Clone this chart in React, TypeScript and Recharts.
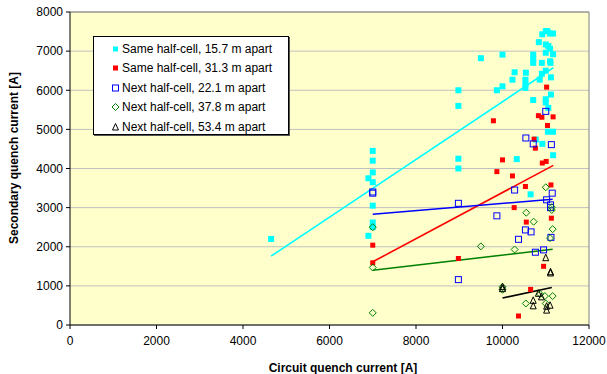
import React from 'react';
import {
  ScatterChart,
  Scatter,
  XAxis,
  YAxis,
  CartesianGrid,
  ReferenceLine,
} from 'recharts';

// [circuit quench current, secondary quench current]
const same157: number[][] = [
  [4650, 2200],
  [6900, 2280], [7000, 2500], [7000, 2620], [7000, 3050], [7000, 3650], [6900, 3750], [7000, 3900], [7000, 4200], [7000, 4450],
  [8980, 4000], [8980, 4250], [8980, 5600], [8980, 6000],
  [9500, 6820], [9870, 6000], [10000, 6100], [10000, 6910],
  [10230, 6270], [10280, 6460], [10330, 4240],
  [10530, 6060], [10530, 6150], [10530, 6270], [10540, 6450], [10650, 3340],
  [10710, 6910], [10710, 6790], [10710, 6700], [10710, 5750],
  [10770, 4740], [10840, 7230], [10860, 6270],
  [10910, 6700], [10910, 6420], [10920, 7430], [10920, 4630],
  [11000, 7510], [11000, 7170], [11000, 6960], [11000, 6500], [11000, 5770], [11000, 5690],
  [11040, 7510], [11060, 7130], [11060, 5550], [11050, 4940],
  [11100, 7450], [11100, 7060], [11100, 6740], [11110, 6700],
  [11120, 6330], [11120, 5890],
  [11170, 7450], [11170, 6920], [11170, 4940], [11170, 4340],
];

const same313: number[][] = [
  [7000, 2040], [7000, 1590], [8980, 1700], [9790, 5220], [9870, 3920], [10000, 4220],
  [10230, 3810], [10270, 3000], [10370, 230], [10530, 3540], [10550, 2630], [10650, 910],
  [10730, 4750], [10760, 4520], [10830, 5350], [10910, 5310], [10920, 4140], [10950, 1500],
  [11010, 4180], [11020, 6080], [11040, 5100], [11120, 3580], [11130, 2730], [11170, 5320],
];

const next221: number[][] = [
  [7000, 3370], [7000, 3400], [8980, 3110], [8980, 1160], [9870, 2790], [10280, 3450],
  [10370, 2190], [10530, 2430], [10540, 4780], [10660, 2380], [10710, 4630], [10760, 1860],
  [10950, 1920], [11000, 5460], [11020, 3200], [11110, 3070], [11110, 3000], [11120, 2240],
  [11130, 4610], [11150, 3370],
];

const next378: number[][] = [
  [7000, 2500], [7000, 1470], [7000, 310], [9500, 2010], [10000, 975], [10000, 900],
  [10280, 1930], [10540, 550], [10550, 2870], [10720, 2640], [10870, 790], [10980, 740],
  [11000, 3520], [11000, 550], [11140, 3010], [11140, 2940], [11160, 2450], [11100, 2220],
  [11160, 740],
];

const next534: number[][] = [
  [10000, 980], [10000, 930], [10710, 630], [10710, 490], [10830, 810], [10900, 720],
  [11000, 1720], [11020, 480], [11020, 380], [11100, 505], [11110, 1360], [11110, 1330],
];

// trend line end points
const trend157 = [[4650, 1760], [11175, 6575]];
const trend313 = [[7000, 1615], [11175, 4080]];
const trend221 = [[7000, 2830], [11160, 3215]];
const trend378 = [[7000, 1400], [11160, 1935]];
const trend534 = [[10000, 690], [11140, 960]];

const xTicks = [0, 2000, 4000, 6000, 8000, 10000, 12000];
const yTicks = [0, 1000, 2000, 3000, 4000, 5000, 6000, 7000, 8000];

const FONT = '"Liberation Sans", Arial, sans-serif';

const toPts = (arr: number[][]) => arr.map(([x, y]) => ({ x, y }));

type Kind = 'fill' | 'open' | 'diamond' | 'triangle';

const Marker = ({ cx, cy, kind, color, s }: { cx: number; cy: number; kind: Kind; color: string; s: number }) => {
  const h = s / 2;
  if (kind === 'fill') return <rect x={cx - h} y={cy - h} width={s} height={s} fill={color} />;
  if (kind === 'open')
    return <rect x={cx - h} y={cy - h} width={s} height={s} fill="none" stroke={color} strokeWidth={1} />;
  if (kind === 'diamond')
    return (
      <polygon
        points={`${cx},${cy - h - 0.5} ${cx + h + 0.5},${cy} ${cx},${cy + h + 0.5} ${cx - h - 0.5},${cy}`}
        fill="none"
        stroke={color}
        strokeWidth={1}
      />
    );
  return (
    <polygon
      points={`${cx},${cy - h - 0.5} ${cx + h},${cy + h} ${cx - h},${cy + h}`}
      fill="none"
      stroke={color}
      strokeWidth={1}
    />
  );
};

const series = [
  { name: 'Same half-cell, 15.7 m apart', data: same157, trend: trend157, color: '#00FFFF', kind: 'fill' as Kind, s: 6 },
  { name: 'Same half-cell, 31.3 m apart', data: same313, trend: trend313, color: '#FF0000', kind: 'fill' as Kind, s: 5 },
  { name: 'Next half-cell, 22.1 m apart', data: next221, trend: trend221, color: '#0000FF', kind: 'open' as Kind, s: 6 },
  { name: 'Next half-cell, 37.8 m apart', data: next378, trend: trend378, color: '#008000', kind: 'diamond' as Kind, s: 6 },
  { name: 'Next half-cell, 53.4 m apart', data: next534, trend: trend534, color: '#000000', kind: 'triangle' as Kind, s: 6 },
];

const LegendBox = () => (
  <div
    style={{
      position: 'absolute',
      left: 93,
      top: 36,
      width: 196,
      height: 99,
      boxSizing: 'border-box',
      border: '1px solid #000',
      background: '#fff',
      boxShadow: '1px 1px 0 #555',
      padding: '2px 4px 0 17px',
      fontFamily: FONT,
      fontSize: 12,
      color: '#000',
    }}
  >
    {series.map((s) => (
      <div key={s.name} style={{ display: 'flex', alignItems: 'center', height: 19.5 }}>
        <svg width={9} height={10} style={{ marginRight: 2 }}>
          <Marker cx={4.5} cy={5} kind={s.kind} color={s.color} s={s.kind === 'fill' ? 5 : 6} />
        </svg>
        <span style={{ whiteSpace: 'nowrap' }}>{s.name}</span>
      </div>
    ))}
  </div>
);

const YTitle = () => (
  <text
    x={14}
    y={158}
    transform="rotate(-90 14 158)"
    textAnchor="middle"
    dominantBaseline="central"
    fontFamily={FONT}
    fontSize={12}
    fontWeight="bold"
    fill="#000"
  >
    Secondary quench current [A]
  </text>
);

const XTitle = () => (
  <text x={343} y={372} textAnchor="middle" fontFamily={FONT} fontSize={12} fontWeight="bold" fill="#000">
    Circuit quench current [A]
  </text>
);

export default function App() {
  return (
    <div style={{ position: 'absolute', left: 0, top: 0, width: 607, height: 374, background: '#fff' }}>
      <ScatterChart width={607} height={374} margin={{ top: 12, right: 18, bottom: 0, left: 0 }} style={{ fontFamily: FONT }}>
        <CartesianGrid horizontal vertical={false} stroke="#C0C0C0" fill="#FFFFCC" strokeWidth={1} />
        <XAxis
          type="number"
          dataKey="x"
          domain={[0, 12000]}
          ticks={xTicks}
          interval={0}
          height={49}
          tickSize={4}
          tickMargin={7}
          axisLine={{ stroke: '#000' }}
          tickLine={{ stroke: '#000' }}
          tick={{ fill: '#000', fontSize: 12, fontFamily: FONT }}
          label={<XTitle />}
        />
        <YAxis
          type="number"
          dataKey="y"
          domain={[0, 8000]}
          ticks={yTicks}
          interval={0}
          width={70}
          tickSize={4}
          tickMargin={3}
          axisLine={{ stroke: '#000' }}
          tickLine={{ stroke: '#000' }}
          tick={{ fill: '#000', fontSize: 12, fontFamily: FONT }}
          label={<YTitle />}
        />
        <ReferenceLine y={8000} stroke="#808080" />
        <ReferenceLine x={12000} stroke="#808080" />
        {series.map((s) => (
          <Scatter
            key={s.name}
            name={s.name}
            data={toPts(s.data)}
            isAnimationActive={false}
            shape={(p: any) => <Marker cx={p.cx} cy={p.cy} kind={s.kind} color={s.color} s={s.s} />}
          />
        ))}
        {series.map((s) => (
          <ReferenceLine
            key={'t' + s.name}
            segment={toPts(s.trend)}
            stroke={s.color}
            strokeWidth={1.6}
          />
        ))}
      </ScatterChart>
      <LegendBox />
    </div>
  );
}
